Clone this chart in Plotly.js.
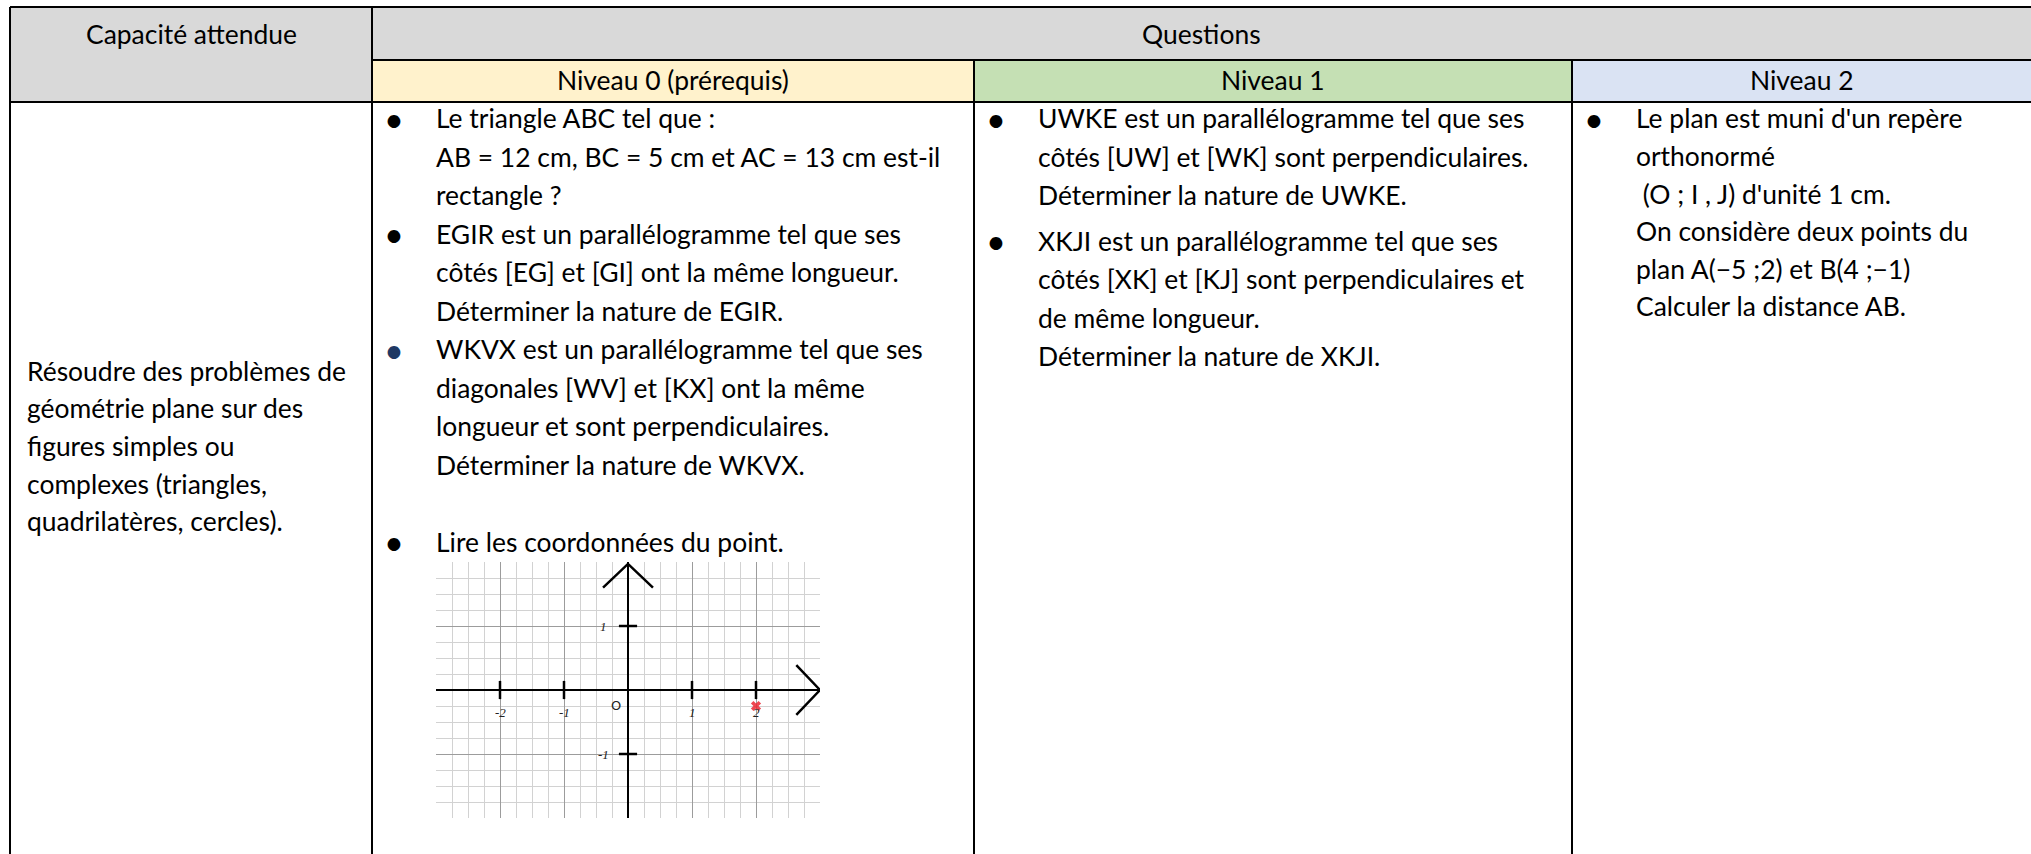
<!DOCTYPE html>
<html lang="fr">
<head>
<meta charset="utf-8">
<title>Capacité attendue / Questions</title>
<script src="https://cdn.plot.ly/plotly-3.0.1.min.js"></script>
<style>
  html, body { margin: 0; padding: 0; background: #fff; }
  #tableau { width: 2031px; height: 854px; }
</style>
</head>
<body>
<div id="tableau"></div>
<script>
// Textes du tableau
const enTetes = ['Capacité attendue', 'Questions'];
const niveaux = ['Niveau 0 (prérequis)', 'Niveau 1', 'Niveau 2'];
const capacite = [
  'Résoudre des problèmes de',
  'géométrie plane sur des',
  'figures simples ou',
  'complexes (triangles,',
  'quadrilatères, cercles).'
];
// une question = liste de lignes ; [''] = ligne vide sans puce
const questionsNiveau0 = [
  ['Le triangle ABC tel que :', 'AB = 12 cm, BC = 5 cm et AC = 13 cm est-il', 'rectangle ?'],
  ['EGIR est un parallélogramme tel que ses', 'côtés [EG] et [GI] ont la même longueur.', 'Déterminer la nature de EGIR.'],
  ['WKVX est un parallélogramme tel que ses', 'diagonales [WV] et [KX] ont la même', 'longueur et sont perpendiculaires.', 'Déterminer la nature de WKVX.'],
  [''],
  ['Lire les coordonnées du point.']
];
const questionsNiveau1 = [
  ['UWKE est un parallélogramme tel que ses', 'côtés [UW] et [WK] sont perpendiculaires.', 'Déterminer la nature de UWKE.'],
  ['XKJI est un parallélogramme tel que ses', 'côtés [XK] et [KJ] sont perpendiculaires et', 'de même longueur.', 'Déterminer la nature de XKJI.']
];
const questionsNiveau2 = [
  ["Le plan est muni d'un repère", 'orthonormé', '\u00a0(O ; I , J) d\'unité 1 cm.', 'On considère deux points du', 'plan A(−5 ;2) et B(4 ;−1)', 'Calculer la distance AB.']
];

// Repère de la question "Lire les coordonnées du point"
const pointX = [2];
const pointY = [-0.25];
const graduationsX = [-2, -1, 1, 2];
const etiquettesX = ['-2', '-1', '1', '2'];
const graduationsY = [1, -1];
const etiquettesY = ['1', '-1'];
const origine = 'O';
const plageX = [-3, 3];
const plageY = [-2, 2];

// Mise en page (pixels de la page)
const W = 2031, H = 854;
const colX = [10, 372, 974, 1572, W];   // bords verticaux
const rowY = [7, 60, 102, H];           // bords horizontaux
const repere = { x0: 436, x1: 820, y0: 562, y1: 818 };
const INTERLIGNE = [38.5, 38.5, 37.6];  // par colonne de questions
const ECART = [0, 7, 0];                // espace entre deux questions, par colonne
const PUCE_DX = 22, TEXTE_DX = 63;
const Y_CORPS = 118.3;
const fond = { entete: '#d9d9d9', niveaux: ['#fff2cc', '#c5e0b4', '#dae3f3'] };
const pucesNiveau0 = ['#000', '#000', '#1f3864', '#000', '#000'];
const POLICE = 'Lato, Carlito, Calibri, sans-serif';

// taille de police choisie pour retrouver la largeur des lignes du modèle
function taillePolice() {
  const ctx = document.createElement('canvas').getContext('2d');
  ctx.font = '100px ' + POLICE;
  const refs = [['AB = 12 cm, BC = 5 cm et AC = 13 cm est-il', 522],
                ['Résoudre des problèmes de', 328],
                ['côtés [UW] et [WK] sont perpendiculaires.', 465]];
  let mesure = 0, cible = 0;
  refs.forEach(([t, w]) => { mesure += ctx.measureText(t).width; cible += w; });
  return 100 * cible / mesure;
}
const TAILLE = taillePolice();

const shapes = [];
const annotations = [];

function rect(x0, y0, x1, y1, couleur) {
  shapes.push({ type: 'rect', xref: 'x', yref: 'y', x0, y0, x1, y1,
    fillcolor: couleur, line: { width: 0 }, layer: 'below' });
}
function trait(x0, y0, x1, y1) {
  shapes.push({ type: 'line', xref: 'x', yref: 'y', x0, y0, x1, y1,
    line: { color: '#000', width: 2 } });
}
function texte(t, x, y, ancre, opts) {
  annotations.push(Object.assign({
    text: t, x, y, xref: 'x', yref: 'y', xanchor: ancre, yanchor: 'middle',
    showarrow: false, borderpad: 0,
    font: { family: POLICE, size: TAILLE, color: '#000' }
  }, opts || {}));
}

// fonds des cellules d'en-tête
rect(colX[0], rowY[0], colX[4], rowY[1], fond.entete);
rect(colX[0], rowY[1], colX[1], rowY[2], fond.entete);
niveaux.forEach((n, i) => rect(colX[i + 1], rowY[1], colX[i + 2], rowY[2], fond.niveaux[i]));

// bordures
trait(colX[0], rowY[0], colX[4], rowY[0]);
trait(colX[1], rowY[1], colX[4], rowY[1]);
trait(colX[0], rowY[2], colX[4], rowY[2]);
trait(colX[0], rowY[0], colX[0], H);
trait(colX[1], rowY[0], colX[1], H);
trait(colX[2], rowY[1], colX[2], H);
trait(colX[3], rowY[1], colX[3], H);

// en-têtes
texte(enTetes[0], (colX[0] + colX[1]) / 2, 34, 'center');
texte(enTetes[1], (colX[1] + colX[4]) / 2, 34, 'center');
niveaux.forEach((n, i) => texte(n, (colX[i + 1] + colX[i + 2]) / 2, 80, 'center'));

// colonne "Capacité attendue" : centrée verticalement sur la ligne
const yCap = 446 - (capacite.length - 1) * 37.6 / 2;
capacite.forEach((l, i) => texte(l, colX[0] + 16, yCap + i * 37.6, 'left'));

// colonnes des questions
function questions(liste, col, couleursPuces) {
  let y = Y_CORPS;
  liste.forEach((q, k) => {
    if (q[0] !== '') {
      texte('•', colX[col] + PUCE_DX, y, 'center',
        { font: { family: POLICE, size: TAILLE * 1.3, color: (couleursPuces && couleursPuces[k]) || '#000' } });
    }
    q.forEach(l => {
      if (l !== '') texte(l, colX[col] + TEXTE_DX, y, 'left');
      y += INTERLIGNE[col - 1];
    });
    if (q[0] !== '') y += ECART[col - 1];
  });
}
questions(questionsNiveau0, 1, pucesNiveau0);
questions(questionsNiveau1, 2);
questions(questionsNiveau2, 3);

// repère : graduations, flèches, point
const noir = '#000';
const FLECHE = { recul: 0.37, demi: 0.39 };
const traces = [
  { x: [], y: [], type: 'scatter', hoverinfo: 'skip', showlegend: false },
  { x: graduationsX, y: graduationsX.map(() => 0), xaxis: 'x2', yaxis: 'y2',
    type: 'scatter', mode: 'markers',
    marker: { symbol: 'line-ns', size: 13, line: { width: 2.5, color: noir } } },
  { x: graduationsY.map(() => 0), y: graduationsY, xaxis: 'x2', yaxis: 'y2',
    type: 'scatter', mode: 'markers',
    marker: { symbol: 'line-ew', size: 13, line: { width: 2.5, color: noir } } },
  { x: [plageX[1] - FLECHE.recul, plageX[1], plageX[1] - FLECHE.recul],
    y: [FLECHE.demi, 0, -FLECHE.demi], xaxis: 'x2', yaxis: 'y2',
    type: 'scatter', mode: 'lines', line: { color: noir, width: 2.5 } },
  { x: [-FLECHE.demi, 0, FLECHE.demi],
    y: [plageY[1] - 0.03 - FLECHE.recul, plageY[1] - 0.03, plageY[1] - 0.03 - FLECHE.recul],
    xaxis: 'x2', yaxis: 'y2',
    type: 'scatter', mode: 'lines', line: { color: noir, width: 2.5 } },
  { x: pointX, y: pointY, xaxis: 'x2', yaxis: 'y2', type: 'scatter', mode: 'markers',
    marker: { symbol: 'x', size: 9, color: 'rgba(235,40,50,0.85)' } }
];

const policeGrad = { family: 'Liberation Serif, DejaVu Serif, serif', size: 13, color: '#222' };
graduationsX.forEach((v, i) => annotations.push({
  text: '<i>' + etiquettesX[i] + '</i>', x: v, y: 0, xref: 'x2', yref: 'y2',
  yshift: -22, showarrow: false, font: policeGrad }));
graduationsY.forEach((v, i) => annotations.push({
  text: '<i>' + etiquettesY[i] + '</i>', x: 0, y: v, xref: 'x2', yref: 'y2',
  xshift: -25, showarrow: false, font: policeGrad }));
annotations.push({ text: origine, x: 0, y: 0, xref: 'x2', yref: 'y2',
  xshift: -12, yshift: -15, showarrow: false,
  font: { family: 'DejaVu Sans, sans-serif', size: 13, color: '#222' } });

const axeRepere = {
  dtick: 1, tick0: 0, showgrid: true, gridcolor: '#9c9c9c', gridwidth: 1,
  minor: { dtick: 0.25, showgrid: true, gridcolor: '#d2d2d2', gridwidth: 1 },
  zeroline: true, zerolinecolor: noir, zerolinewidth: 2.5,
  showticklabels: false, ticks: '', showline: false, fixedrange: true
};

const layout = {
  width: W, height: H,
  margin: { l: 0, r: 0, t: 0, b: 0 },
  paper_bgcolor: '#fff', plot_bgcolor: '#fff',
  showlegend: false, hovermode: false,
  xaxis: { range: [0, W], domain: [0, 1], visible: false, fixedrange: true },
  yaxis: { range: [H, 0], domain: [0, 1], visible: false, fixedrange: true },
  xaxis2: Object.assign({ domain: [repere.x0 / W, repere.x1 / W], range: plageX, anchor: 'y2' }, axeRepere),
  yaxis2: Object.assign({ domain: [1 - repere.y1 / H, 1 - repere.y0 / H], range: plageY, anchor: 'x2' }, axeRepere),
  shapes: shapes,
  annotations: annotations
};

Plotly.newPlot('tableau', traces, layout, { staticPlot: true, displayModeBar: false });
</script>
</body>
</html>
